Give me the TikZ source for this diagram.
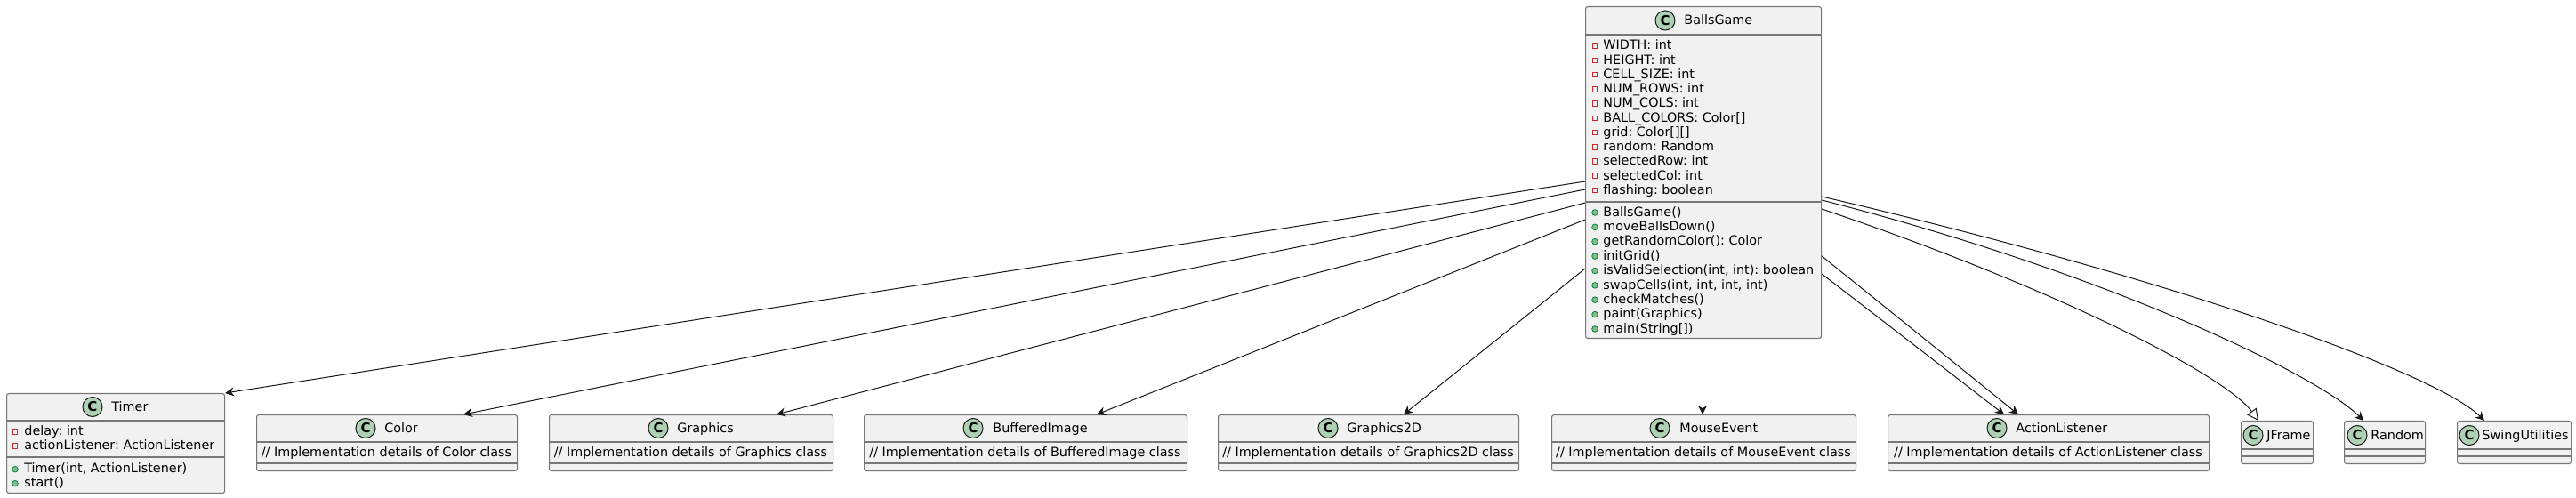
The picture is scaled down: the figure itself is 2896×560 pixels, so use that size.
\documentclass[tikz,border=0pt]{standalone}
\usepackage{fontspec}
\setmainfont{DejaVu Sans}
\frenchspacing
\usetikzlibrary{arrows.meta,calc}
\definecolor{boxfill}{HTML}{F1F1F1}
\definecolor{boxline}{HTML}{777777}
\definecolor{cfill}{HTML}{ADD1B2}
\definecolor{edgec}{HTML}{181818}
\definecolor{privc}{HTML}{C82930}
\definecolor{pubfill}{HTML}{84BE84}
\definecolor{publine}{HTML}{038048}
\tikzset{
  classbox/.style={draw=boxline, fill=boxfill, line width=0.55pt, rounded corners=1.25pt, inner sep=0pt, anchor=north west},
  sepline/.style={draw=boxline, line width=0.55pt},
  cicon/.style={circle, draw=edgec, line width=0.5pt, fill=cfill, minimum size=11pt, inner sep=0pt, font=\fontsize{7.5}{8}\selectfont\bfseries},
  ctitle/.style={anchor=base west, inner sep=0pt, font=\fontsize{7.18}{8}\selectfont\frenchspacing},
  mem/.style={anchor=base west, inner sep=0pt, font=\fontsize{7.18}{8}\selectfont\frenchspacing},
  cmt/.style={anchor=base, inner sep=0pt, font=\fontsize{7.18}{8}\selectfont\frenchspacing},
  priv/.style={rectangle, draw=privc, line width=0.5pt, minimum size=2.8pt, inner sep=0pt},
  pub/.style={circle, fill=pubfill, draw=publine, line width=0.4pt, minimum size=3.3pt, inner sep=0pt},
  dep/.style={draw=edgec, line width=0.5pt, -{Stealth[length=5pt,width=5pt,inset=1.6pt]}},
  inh/.style={draw=edgec, line width=0.5pt, -{Triangle[open,length=6.5pt,width=6.5pt,fill=white]}}
}
\newcommand\classbox[5]{\node[classbox, minimum width={(#4-#2)*0.5pt}, minimum height={(#5-#3)*0.5pt}] (#1) at (#2,#3) {};}
\newcommand\hsep[3]{\draw[sepline] (#1,#3) -- (#2,#3);}
\newcommand\ctitleat[5]{\node[cicon] (#1c) at (#2,#4) {C}; \node[ctitle] (#1t) at (#3,#4+5) {#5};}
\newcommand\privm[5]{\node[priv] (#1i) at (#2,#4+0.7) {}; \node[mem] (#1) at (#3,#4+5) {#5};}
\newcommand\pubm[5]{\node[pub] (#1i) at (#2,#4+0.7) {}; \node[mem] (#1) at (#3,#4+5) {#5};}
\begin{document}
\begin{tikzpicture}[x=0.5pt,y=-0.5pt]
\useasboundingbox (0,0) rectangle (2896,560);
\fill[white] (0,0) rectangle (2896,560);

% ---------- BallsGame ----------
\classbox{bg}{1782}{7}{2047}{380}
\hsep{1782}{2047}{39}
\hsep{1782}{2047}{227}
\ctitleat{bg}{1872}{1893}{23}{BallsGame}
\privm{a1}{1793}{1802}{51}{WIDTH: int}
\privm{a2}{1793}{1802}{67.2}{HEIGHT: int}
\privm{a3}{1793}{1802}{83.5}{CELL\_SIZE: int}
\privm{a4}{1793}{1802}{99.7}{NUM\_ROWS: int}
\privm{a5}{1793}{1802}{115.9}{NUM\_COLS: int}
\privm{a6}{1793}{1802}{132.2}{BALL\_COLORS: Color[]}
\privm{a7}{1793}{1802}{148.4}{grid: Color[][]}
\privm{a8}{1793}{1802}{164.6}{random: Random}
\privm{a9}{1793}{1802}{180.8}{selectedRow: int}
\privm{a10}{1793}{1802}{197.1}{selectedCol: int}
\privm{a11}{1793}{1802}{213.3}{flashing: boolean}
\pubm{m1}{1793}{1802}{238.3}{BallsGame()}
\pubm{m2}{1793}{1802}{254.7}{moveBallsDown()}
\pubm{m3}{1793}{1802}{271.0}{getRandomColor(): Color}
\pubm{m4}{1793}{1802}{287.4}{initGrid()}
\pubm{m5}{1793}{1802}{303.8}{isValidSelection(int, int): boolean}
\pubm{m6}{1793}{1802}{320.2}{swapCells(int, int, int, int)}
\pubm{m7}{1793}{1802}{336.5}{checkMatches()}
\pubm{m8}{1793}{1802}{352.9}{paint(Graphics)}
\pubm{m9}{1793}{1802}{369.3}{main(String[])}

% ---------- Timer ----------
\classbox{timer}{7}{442}{252}{554}
\hsep{7}{252}{473}
\hsep{7}{252}{514}
\ctitleat{timer}{104}{125}{457.5}{Timer}
\privm{ta1}{17}{27}{485}{delay: int}
\privm{ta2}{17}{27}{501}{actionListener: ActionListener}
\pubm{tm1}{17}{27}{527}{Timer(int, ActionListener)}
\pubm{tm2}{17}{27}{543}{start()}

% ---------- comment classes ----------
\classbox{color}{288}{466}{581}{529}
\hsep{288}{581}{497}\hsep{288}{581}{521}
\ctitleat{color}{411}{432}{481.5}{Color}
\node[cmt] (colorx) at (434.5,514) {// Implementation details of Color class};

\classbox{graphics}{617}{466}{936}{529}
\hsep{617}{936}{497}\hsep{617}{936}{521}
\ctitleat{graphics}{740}{761}{481.5}{Graphics}
\node[cmt] (graphicsx) at (776.5,514) {// Implementation details of Graphics class};

\classbox{bimg}{971}{466}{1334}{529}
\hsep{971}{1334}{497}\hsep{971}{1334}{521}
\ctitleat{bimg}{1094}{1116}{481.5}{BufferedImage}
\node[cmt] (bimgx) at (1152.5,514) {// Implementation details of BufferedImage class};

\classbox{gtd}{1369}{466}{1707}{529}
\hsep{1369}{1707}{497}\hsep{1369}{1707}{521}
\ctitleat{gtd}{1493}{1514}{481.5}{Graphics2D}
\node[cmt] (gtdx) at (1538,514) {// Implementation details of Graphics2D class};

\classbox{mouse}{1744}{466}{2086}{529}
\hsep{1744}{2086}{497}\hsep{1744}{2086}{521}
\ctitleat{mouse}{1866}{1888}{481.5}{MouseEvent}
\node[cmt] (mousex) at (1915,514) {// Implementation details of MouseEvent class};

\classbox{al}{2122}{466}{2483}{529}
\hsep{2122}{2483}{497}\hsep{2122}{2483}{521}
\ctitleat{al}{2245}{2266}{481.5}{ActionListener}
\node[cmt] (alx) at (2302.5,514) {// Implementation details of ActionListener class};

% ---------- empty classes ----------
\classbox{jf}{2519}{473}{2600}{521}
\hsep{2519}{2600}{505}\hsep{2519}{2600}{513}
\ctitleat{jf}{2533}{2548}{489.5}{JFrame}

\classbox{rnd}{2635}{473}{2726}{521}
\hsep{2635}{2726}{505}\hsep{2635}{2726}{513}
\ctitleat{rnd}{2650}{2665}{489.5}{Random}

\classbox{swing}{2762}{473}{2890}{521}
\hsep{2762}{2890}{505}\hsep{2762}{2890}{513}
\ctitleat{swing}{2776}{2790}{489.5}{SwingUtilities}

% ---------- connectors ----------
\draw[dep] (bg.west |- 0,204) -- (timer.north east);
\draw[dep] (bg.west |- 0,213) -- (color.north -| 521,0);
\draw[dep] (bg.west |- 0,228) -- (graphics.north -| 873,0);
\draw[dep] (bg.west |- 0,247) -- (bimg.north -| 1233,0);
\draw[dep] (bg.west |- 0,302) -- (gtd.north -| 1578,0);
\draw[dep] (bg.south -| 1914,0) -- (mouse.north -| 1914,0);
\draw[dep] (bg.east |- 0,288) -- (al.north -| 2269,0);
\draw[dep] (bg.east |- 0,308) -- (al.north -| 2253,0);
\draw[inh] (bg.east |- 0,235) .. controls (2300,320) and (2500,420) .. (jf.north -| 2539,0);
\draw[dep] (bg.east |- 0,225) .. controls (2380,310) and (2610,425) .. (rnd.north -| 2657,0);
\draw[dep] (bg.east |- 0,221) .. controls (2450,315) and (2740,420) .. (swing.north -| 2793,0);
\end{tikzpicture}
\end{document}
